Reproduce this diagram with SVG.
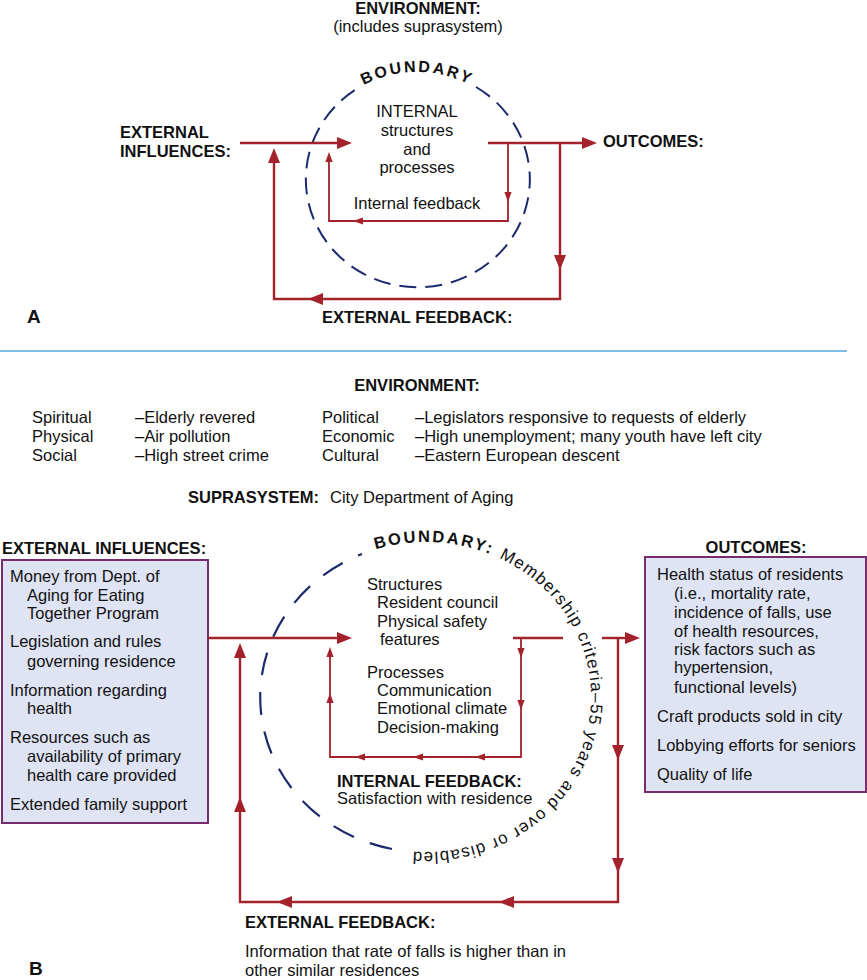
<svg xmlns="http://www.w3.org/2000/svg" xmlns:xlink="http://www.w3.org/1999/xlink" width="867" height="980" viewBox="0 0 867 980">
<style>
.t{font-family:"Liberation Sans",Arial,Helvetica,sans-serif;font-size:16.5px;fill:#111}
.b{font-weight:bold}
.m{text-anchor:middle}
.arc{font-size:17px;letter-spacing:1.2px}
.ln{fill:none;stroke:#a3222b;stroke-width:2.4}
.lns{fill:none;stroke:#a3222b;stroke-width:1.8}
.ah{fill:#a3222b}
.dashA{fill:none;stroke:#1c2a6e;stroke-width:2;stroke-dasharray:17 9}
.dashB{fill:none;stroke:#1c2a6e;stroke-width:2.2;stroke-dasharray:23 17}
.box{fill:#dfe4f5;stroke:#7a2b6b;stroke-width:2}
.sep{stroke:#54a9e0;stroke-width:1.6}
</style>
<defs>
<path id="ah" d="M0,0 L-15,-6 L-15,6 Z"/>
<path id="ahs" d="M0,0 L-10,-3.6 L-10,3.6 Z"/>
<path id="arcA" d="M305,180 A112,108 0 0 1 529,180"/>
<path id="arcB" d="M261,697 A165,155 0 1 1 591,697 A165,155 0 1 1 261,697"/>
</defs>

<!-- ============ PART A ============ -->
<g id="A-environment">
<text class="t b m" x="418" y="14">ENVIRONMENT:</text>
<text class="t m" x="418" y="32">(includes suprasystem)</text>
</g>
<g id="A-boundary">
<path class="dashA" d="M476,87 A112,108 0 1 1 358,88"/>
<text class="t b" style="font-size:16px;letter-spacing:2.4px"><textPath href="#arcA" startOffset="50%" text-anchor="middle">BOUNDARY</textPath></text>
</g>
<g id="A-internal">
<text class="t m" x="417" y="117">INTERNAL</text>
<text class="t m" x="417" y="136">structures</text>
<text class="t m" x="417" y="155">and</text>
<text class="t m" x="417" y="173">processes</text>
</g>
<g id="A-internal-feedback">
<text class="t m" x="417" y="209">Internal feedback</text>
</g>
<g id="A-external-influences">
<text class="t b" x="120" y="138">EXTERNAL</text>
<text class="t b" x="120" y="157">INFLUENCES:</text>
</g>
<g id="A-outcomes">
<text class="t b" x="603" y="147">OUTCOMES:</text>
</g>
<g id="A-external-feedback">
<text class="t b" x="322" y="323">EXTERNAL FEEDBACK:</text>
</g>
<g id="A-label">
<text class="t b" style="font-size:19px" x="27" y="323">A</text>
</g>

<g id="A-connectors">
<path class="ln" d="M240,143 H339"/>
<use href="#ah" class="ah" transform="translate(352,143)"/>
<path class="ln" d="M488,143 H584"/>
<use href="#ah" class="ah" transform="translate(597,143)"/>
<path class="ln" d="M560,143 V299 H274 V160"/>
<use href="#ah" class="ah" transform="translate(560,270) rotate(90)"/>
<use href="#ah" class="ah" transform="translate(308,299) rotate(180)"/>
<use href="#ah" class="ah" transform="translate(274,148) rotate(-90)"/>
<path class="lns" d="M508,143 V221 H329 V160"/>
<use href="#ahs" class="ah" transform="translate(508,202) rotate(90)"/>
<use href="#ahs" class="ah" transform="translate(353,221) rotate(180)"/>
<use href="#ahs" class="ah" transform="translate(329,152) rotate(-90)"/>
</g>

<line id="separator" class="sep" x1="0" y1="351" x2="847" y2="351"/>

<!-- ============ PART B ============ -->
<g id="B-environment">
<text class="t b m" x="417" y="391">ENVIRONMENT:</text>
<text class="t" x="32" y="423">Spiritual</text>
<text class="t" x="32" y="442">Physical</text>
<text class="t" x="32" y="461">Social</text>
<text class="t" x="135" y="423">–Elderly revered</text>
<text class="t" x="135" y="442">–Air pollution</text>
<text class="t" x="135" y="461">–High street crime</text>
<text class="t" x="322" y="423">Political</text>
<text class="t" x="322" y="442">Economic</text>
<text class="t" x="322" y="461">Cultural</text>
<text class="t" x="415" y="423">–Legislators responsive to requests of elderly</text>
<text class="t" x="415" y="442">–High unemployment; many youth have left city</text>
<text class="t" x="415" y="461">–Eastern European descent</text>
</g>
<g id="B-suprasystem">
<text class="t" x="188" y="503"><tspan class="b">SUPRASYSTEM:</tspan><tspan x="330">City Department of Aging</tspan></text>
</g>

<g id="B-external-influences">
<text class="t b" x="2" y="554">EXTERNAL INFLUENCES:</text>
<rect class="box" x="2" y="560" width="206" height="263"/>
<text class="t" x="10" y="582">Money from Dept. of</text>
<text class="t" x="27" y="601">Aging for Eating</text>
<text class="t" x="27" y="619">Together Program</text>
<text class="t" x="10" y="647">Legislation and rules</text>
<text class="t" x="27" y="667">governing residence</text>
<text class="t" x="10" y="696">Information regarding</text>
<text class="t" x="27" y="714">health</text>
<text class="t" x="10" y="743">Resources such as</text>
<text class="t" x="27" y="762">availability of primary</text>
<text class="t" x="27" y="781">health care provided</text>
<text class="t" x="10" y="810">Extended family support</text>
</g>

<g id="B-outcomes">
<text class="t b m" x="756" y="553">OUTCOMES:</text>
<rect class="box" x="645" y="557" width="221" height="235"/>
<text class="t" x="657" y="580">Health status of residents</text>
<text class="t" x="674" y="599">(i.e., mortality rate,</text>
<text class="t" x="674" y="618">incidence of falls, use</text>
<text class="t" x="674" y="637">of health resources,</text>
<text class="t" x="674" y="655">risk factors such as</text>
<text class="t" x="674" y="673">hypertension,</text>
<text class="t" x="674" y="693">functional levels)</text>
<text class="t" x="657" y="722">Craft products sold in city</text>
<text class="t" x="657" y="751">Lobbying efforts for seniors</text>
<text class="t" x="657" y="780">Quality of life</text>
</g>

<g id="B-boundary">
<path class="dashB" d="M392,849 A165,155 0 0 1 362,554"/>
<text class="t b" style="font-size:16.5px;letter-spacing:2.2px"><textPath href="#arcB" startOffset="200">BOUNDARY:</textPath></text>
<text class="t arc"><textPath href="#arcB" startOffset="326.5">Membership</textPath></text>
<text class="t arc"><textPath href="#arcB" startOffset="438">criteria–55</textPath></text>
<text class="t arc"><textPath href="#arcB" startOffset="536.4">years</textPath></text>
<text class="t arc"><textPath href="#arcB" startOffset="590">and</textPath></text>
<text class="t arc"><textPath href="#arcB" startOffset="627.8">over</textPath></text>
<text class="t arc"><textPath href="#arcB" startOffset="671.6">or</textPath></text>
<text class="t arc"><textPath href="#arcB" startOffset="695.1">disabled</textPath></text>
</g>

<g id="B-internal">
<text class="t" x="367" y="590">Structures</text>
<text class="t" x="377" y="608">Resident council</text>
<text class="t" x="377" y="627">Physical safety</text>
<text class="t" x="380" y="645">features</text>
<text class="t" x="367" y="678">Processes</text>
<text class="t" x="377" y="696">Communication</text>
<text class="t" x="377" y="714">Emotional climate</text>
<text class="t" x="377" y="733">Decision-making</text>
</g>
<g id="B-internal-feedback">
<text class="t b" x="337" y="787">INTERNAL FEEDBACK:</text>
<text class="t" x="337" y="804">Satisfaction with residence</text>
</g>
<g id="B-external-feedback">
<text class="t b" x="245" y="928">EXTERNAL FEEDBACK:</text>
<text class="t" x="245" y="957">Information that rate of falls is higher than in</text>
<text class="t" x="245" y="976">other similar residences</text>
</g>
<g id="B-label">
<text class="t b" style="font-size:19px" x="29" y="975">B</text>
</g>

<g id="B-connectors">
<path class="ln" d="M208,638 H339"/>
<use href="#ah" class="ah" transform="translate(352,638)"/>
<path class="ln" d="M513,638 H563"/>
<path class="ln" d="M602,638 H627"/>
<use href="#ah" class="ah" transform="translate(640,638)"/>
<path class="ln" d="M618,638 V902 H240 V656"/>
<use href="#ah" class="ah" transform="translate(618,760) rotate(90)"/>
<use href="#ah" class="ah" transform="translate(618,873) rotate(90)"/>
<use href="#ah" class="ah" transform="translate(499,902) rotate(180)"/>
<use href="#ah" class="ah" transform="translate(277,902) rotate(180)"/>
<use href="#ah" class="ah" transform="translate(240,797) rotate(-90)"/>
<use href="#ah" class="ah" transform="translate(240,643) rotate(-90)"/>
<path class="lns" d="M521,638 V757 H330 V655"/>
<use href="#ahs" class="ah" transform="translate(521,658) rotate(90)"/>
<use href="#ahs" class="ah" transform="translate(521,710) rotate(90)"/>
<use href="#ahs" class="ah" transform="translate(475,757) rotate(180)"/>
<use href="#ahs" class="ah" transform="translate(413,757) rotate(180)"/>
<use href="#ahs" class="ah" transform="translate(355,757) rotate(180)"/>
<use href="#ahs" class="ah" transform="translate(330,693) rotate(-90)"/>
<use href="#ahs" class="ah" transform="translate(330,647) rotate(-90)"/>
</g>
</svg>
